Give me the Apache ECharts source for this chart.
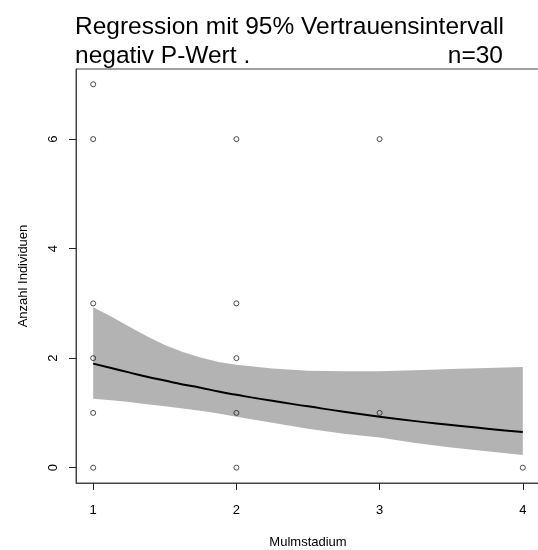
<!DOCTYPE html>
<html>
<head>
<meta charset="utf-8">
<script src="https://cdn.jsdelivr.net/npm/echarts@6/dist/echarts.min.js"></script>
<style>
html,body{margin:0;padding:0;background:#fff;}
#chart{width:538px;height:550px;}
</style>
</head>
<body>
<div id="chart"></div>
<script>
// Observed points (Mulmstadium, Anzahl Individuen)
const pointX = [1, 1, 1, 1, 1, 1, 2, 2, 2, 2, 2, 3, 3, 4];
const pointY = [0, 1, 2, 3, 6, 7, 0, 1, 2, 3, 6, 1, 6, 0];
// Fitted regression curve and 95% confidence band
const fitX  = [1, 1.125, 1.25, 1.375, 1.5, 1.625, 1.75, 1.875, 2, 2.25, 2.5, 2.75, 3, 3.25, 3.5, 3.75, 4];
const fitY  = [1.90, 1.82, 1.74, 1.66, 1.59, 1.52, 1.46, 1.39, 1.33, 1.22, 1.12, 1.02, 0.93, 0.85, 0.78, 0.71, 0.65];
const upper = [2.93, 2.76, 2.58, 2.40, 2.24, 2.11, 2.01, 1.93, 1.88, 1.81, 1.77, 1.76, 1.76, 1.78, 1.80, 1.82, 1.84];
const lower = [1.26, 1.23, 1.20, 1.16, 1.12, 1.08, 1.04, 0.99, 0.93, 0.82, 0.71, 0.62, 0.55, 0.45, 0.37, 0.30, 0.23];
const xTicks = [1, 2, 3, 4];
const yTicks = [0, 2, 4, 6];

const FONT = '"Liberation Sans", Arial, sans-serif';
const chart = echarts.init(document.getElementById('chart'), null, {renderer: 'canvas'});

const scatterData = pointX.map((x, i) => [x, pointY[i]]);
const lineData = fitX.map((x, i) => [x, fitY[i]]);
const titleStyle = {fontFamily: FONT, fontSize: 24.5, fontWeight: 'normal', color: '#000'};

chart.setOption({
  animation: false,
  backgroundColor: '#fff',
  title: [
    {text: 'Regression mit 95% Vertrauensintervall', left: 75, top: 15, padding: 0, textStyle: titleStyle},
    {text: 'negativ P-Wert .', left: 75, top: 44, padding: 0, textStyle: titleStyle},
    {text: 'n=30', right: 35, top: 44, padding: 0, textStyle: titleStyle}
  ],
  grid: {left: 76, right: -2, top: 69, bottom: 67, show: true, borderColor: '#444', borderWidth: 1,
         backgroundColor: 'transparent', containLabel: false, outerBoundsMode: 'none'},
  xAxis: {
    type: 'value', min: 0.88, max: 4.12,
    name: 'Mulmstadium', nameLocation: 'middle', nameGap: 53,
    nameTextStyle: {fontFamily: FONT, fontSize: 13, color: '#000'},
    axisLine: {show: true, onZero: false, lineStyle: {color: '#444', width: 1}},
    axisTick: {show: true, inside: false, length: 7, customValues: xTicks, lineStyle: {color: '#222', width: 1}},
    axisLabel: {customValues: xTicks, margin: 21, fontFamily: FONT, fontSize: 13, color: '#000'},
    splitLine: {show: false}
  },
  yAxis: {
    type: 'value', min: -0.28, max: 7.28,
    name: 'Anzahl Individuen', nameLocation: 'middle', nameGap: 46,
    nameTextStyle: {fontFamily: FONT, fontSize: 13, color: '#000'},
    axisLine: {show: true, onZero: false, lineStyle: {color: '#444', width: 1}},
    axisTick: {show: true, inside: false, length: 7, customValues: yTicks, lineStyle: {color: '#222', width: 1}},
    axisLabel: {customValues: yTicks, rotate: 90, margin: 16, fontFamily: FONT, fontSize: 13, color: '#000'},
    splitLine: {show: false}
  },
  series: [
    {
      type: 'custom', z: 1, silent: true,
      data: [[0]],
      renderItem: function (params, api) {
        const pts = [];
        for (let i = 0; i < fitX.length; i++) pts.push(api.coord([fitX[i], upper[i]]));
        for (let i = fitX.length - 1; i >= 0; i--) pts.push(api.coord([fitX[i], lower[i]]));
        return {type: 'polygon', shape: {points: pts}, style: {fill: '#b3b3b3', stroke: null}};
      }
    },
    {
      type: 'scatter', z: 3, data: scatterData, symbol: 'circle', symbolSize: 5,
      itemStyle: {color: 'transparent', borderColor: '#222', borderWidth: 1}
    },
    {
      type: 'line', z: 4, data: lineData, showSymbol: false, smooth: true,
      lineStyle: {color: '#000', width: 2}
    }
  ]
});
</script>
</body>
</html>
